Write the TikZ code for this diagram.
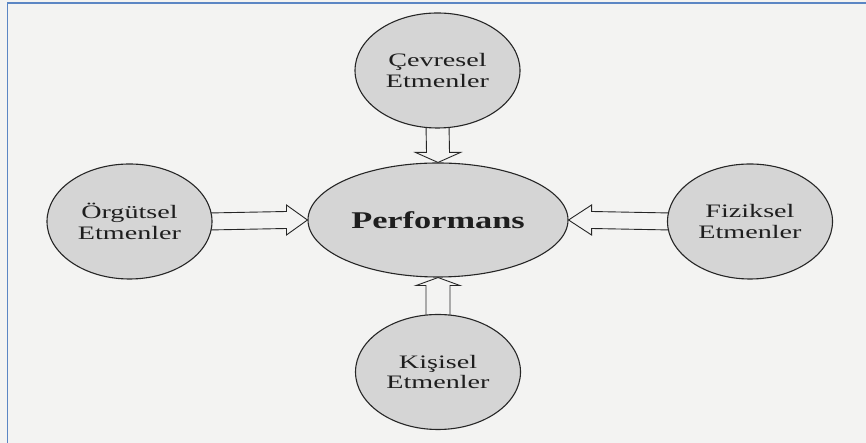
\documentclass[tikz,border=0pt]{standalone}
\usepackage{fontspec}
\setmainfont{Liberation Serif}
\newfontfamily\smallwide[FakeStretch=1.48]{Liberation Serif}
\newfontfamily\bigwide[FakeStretch=1.43]{Liberation Serif}
\usetikzlibrary{shapes.geometric,calc,backgrounds}
\definecolor{bgcol}{HTML}{F3F3F2}
\definecolor{ellfill}{HTML}{D5D5D5}
\definecolor{framecol}{HTML}{5B86C4}
\definecolor{txtcol}{HTML}{1E1E1E}
\tikzset{
  factor/.style={ellipse, draw=black!85, line width=1.1pt, fill=ellfill,
    minimum width=165pt, minimum height=115pt, inner sep=0pt, align=center,
    text=txtcol, font=\smallwide\fontsize{19}{20.5}\selectfont},
  central/.style={ellipse, draw=black!85, line width=1.1pt, fill=ellfill,
    minimum width=260pt, minimum height=114pt, inner sep=0pt, align=center,
    text=txtcol, font=\bigwide\bfseries\fontsize{24}{26}\selectfont},
  blockarrow/.style={draw=black!85, line width=0.9pt, fill=bgcol, line join=miter}
}
\begin{document}
\begin{tikzpicture}[x=1pt,y=1pt]
\useasboundingbox (0,0) rectangle (866,443);
\node[central] (P) at (438,223) {Performans};
\node[factor] (C) at (437.5,372.5) {Çevresel\\Etmenler};
\node[factor] (O) at (129.5,221.5) {Örgütsel\\Etmenler};
\node[factor] (F) at (750,221.5) {Fiziksel\\Etmenler};
\node[factor] (K) at (438,71) {Kişisel\\Etmenler};
\begin{scope}[on background layer]
  \fill[bgcol] (0,0) rectangle (866,443);
  \draw[framecol, line width=1.8pt] (7.5,0) -- (7.5,440) -- (866,440);
  % top arrow
  \draw[blockarrow] ($(C.south)+(-11.5,4)$) -- ($(P.north)+(-11.5,10)$)
    -- ($(P.north)+(-22.5,10)$) -- (P.north) -- ($(P.north)+(22.5,10)$)
    -- ($(P.north)+(11.5,10)$) -- ($(C.south)+(11.5,4)$);
  % bottom arrow
  \draw[blockarrow] ($(K.north)+(-12,-4)$) -- ($(P.south)+(-12,-8)$)
    -- ($(P.south)+(-22,-8)$) -- (P.south) -- ($(P.south)+(22,-8)$)
    -- ($(P.south)+(12,-8)$) -- ($(K.north)+(12,-4)$);
  % left arrow
  \draw[blockarrow] ($(O.east)+(-4,8.5)$) -- ($(P.west)+(-21,8.5)$)
    -- ($(P.west)+(-21,15)$) -- (P.west) -- ($(P.west)+(-21,-15)$)
    -- ($(P.west)+(-21,-8.5)$) -- ($(O.east)+(-4,-8.5)$);
  % right arrow
  \draw[blockarrow] ($(F.west)+(4,8.5)$) -- ($(P.east)+(23,8.5)$)
    -- ($(P.east)+(23,15)$) -- (P.east) -- ($(P.east)+(23,-15)$)
    -- ($(P.east)+(23,-8.5)$) -- ($(F.west)+(4,-8.5)$);
\end{scope}
\end{tikzpicture}
\end{document}
